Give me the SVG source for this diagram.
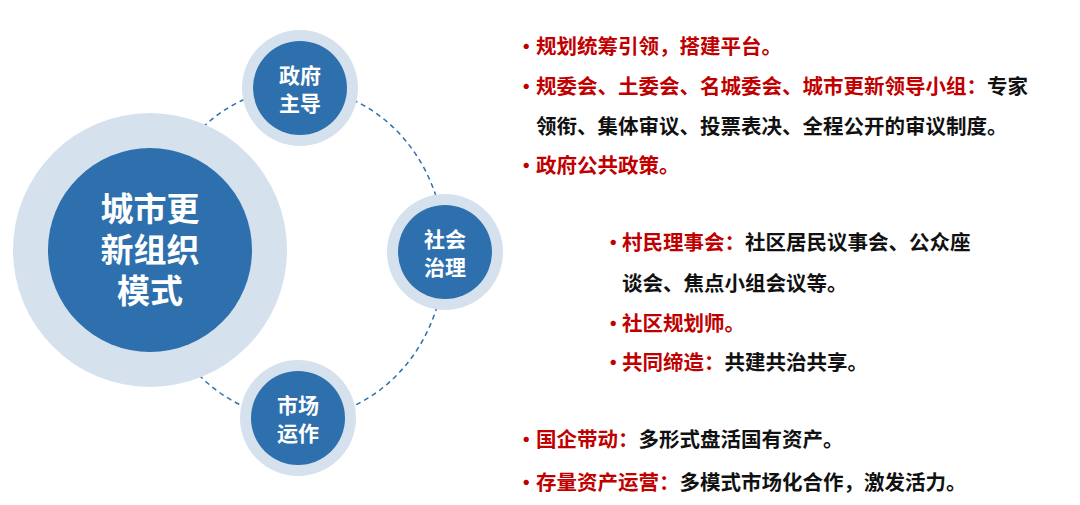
<svg xmlns="http://www.w3.org/2000/svg" width="1080" height="505" viewBox="0 0 1080 505">
<style>
.halo{fill:#d6e1ee}
.core{fill:#2e6fad}
.nt{font-family:"Noto Sans CJK SC",sans-serif;font-weight:bold;fill:#fff;text-anchor:middle}
.t{font-family:"Noto Sans CJK SC",sans-serif;font-weight:bold;font-size:20.5px;fill:#111}
.r{fill:#c00000}
</style>
<rect width="1080" height="505" fill="#fff"/>
<g id="connectors">
<ellipse cx="298" cy="253" rx="147" ry="165" fill="none" stroke="#2e6fad" stroke-width="1.5" stroke-dasharray="5,4"/>
</g>
<g id="main"><circle cx="150" cy="250" r="137" class="halo"/><circle cx="150" cy="250" r="102" class="core"/>
<text class="nt" font-size="33" x="150" y="221">城市更</text><text class="nt" font-size="33" x="150" y="262">新组织</text><text class="nt" font-size="33" x="150" y="303">模式</text></g>
<g id="gov"><circle cx="300" cy="88" r="58" class="halo"/><circle cx="300" cy="88" r="47" class="core"/>
<text class="nt" font-size="21" x="300" y="83">政府</text><text class="nt" font-size="21" x="300" y="111">主导</text></g>
<g id="soc"><circle cx="445" cy="252" r="58" class="halo"/><circle cx="445" cy="252" r="47" class="core"/>
<text class="nt" font-size="21" x="445" y="247">社会</text><text class="nt" font-size="21" x="445" y="275">治理</text></g>
<g id="mkt"><circle cx="298" cy="418" r="58" class="halo"/><circle cx="298" cy="418" r="47" class="core"/>
<text class="nt" font-size="21" x="298" y="413">市场</text><text class="nt" font-size="21" x="298" y="441">运作</text></g>
<g id="text1">
<text class="t r" x="516" y="54">•</text><text class="t r" x="536" y="54">规划统筹引领，搭建平台。</text>
<text class="t r" x="516" y="94">•</text><text class="t" x="536" y="94"><tspan class="r">规委会、土委会、名城委会、城市更新领导小组：</tspan>专家</text>
<text class="t" x="536" y="134">领衔、集体审议、投票表决、全程公开的审议制度。</text>
<text class="t r" x="516" y="173">•</text><text class="t r" x="536" y="173">政府公共政策。</text>
</g>
<g id="text2">
<text class="t r" x="603" y="250">•</text><text class="t" x="622" y="250"><tspan class="r">村民理事会：</tspan>社区居民议事会、公众座</text>
<text class="t" x="622" y="291">谈会、焦点小组会议等。</text>
<text class="t r" x="603" y="331">•</text><text class="t r" x="622" y="331">社区规划师。</text>
<text class="t r" x="603" y="370">•</text><text class="t" x="622" y="370"><tspan class="r">共同缔造：</tspan>共建共治共享。</text>
</g>
<g id="text3">
<text class="t r" x="516" y="447">•</text><text class="t" x="536" y="447"><tspan class="r">国企带动：</tspan>多形式盘活国有资产。</text>
<text class="t r" x="516" y="490">•</text><text class="t" x="536" y="490"><tspan class="r">存量资产运营：</tspan>多模式市场化合作，激发活力。</text>
</g>
</svg>
